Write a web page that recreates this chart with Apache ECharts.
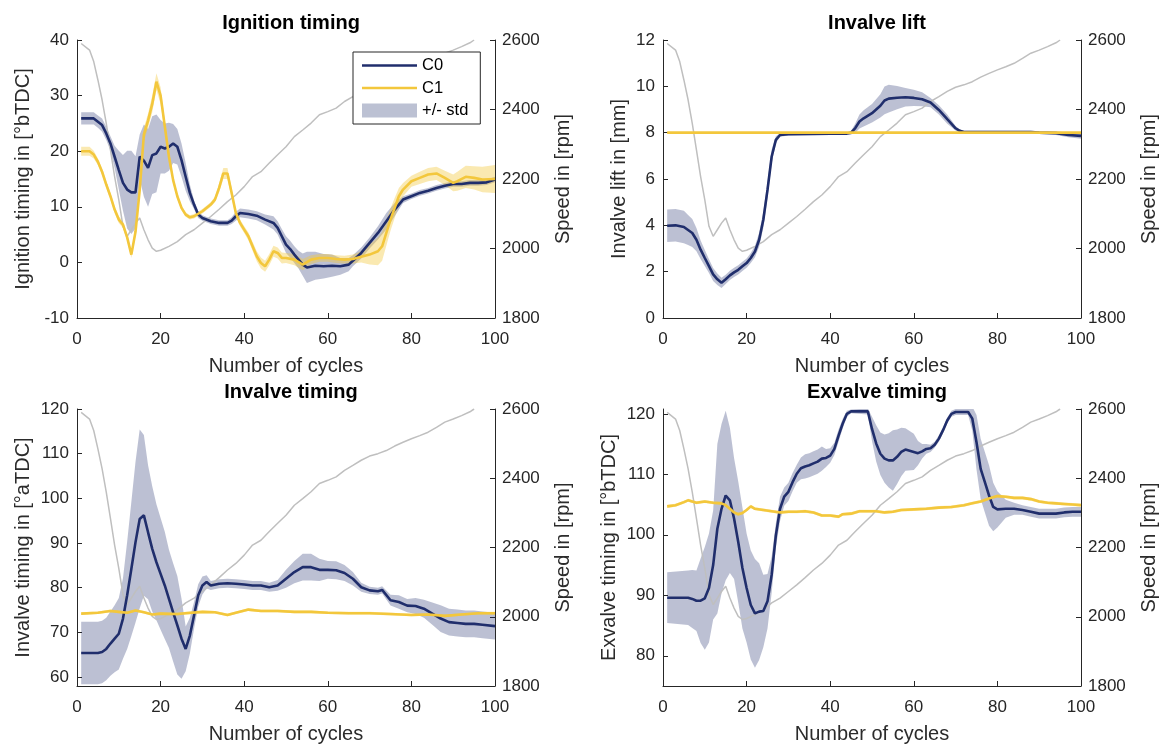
<!DOCTYPE html>
<html>
<head>
<meta charset="utf-8">
<script src="https://cdn.jsdelivr.net/npm/echarts@6/dist/echarts.min.js"></script>
<style>
  html, body { margin: 0; padding: 0; background: #fff; }
  #chart { width: 1163px; height: 745px; }
</style>
</head>
<body>
<div id="chart"></div>
<script>
// ---- shared x axis / speed trace ----
const cycleTicks = [0, 20, 40, 60, 80, 100];
const speedTicks = [1800, 2000, 2200, 2400, 2600];
const speedX = [1,3,4,5,6,7,8,9,10,11,12,13,14,15,16,17,18,19,20,22,24,26,28,30,32,34,36,38,40,42,44,46,48,50,52,54,56,58,60,62,64,66,68,70,72,74,76,78,80,82,84,86,88,90,92,94,95];
const speed = [2590,2571,2538,2485,2428,2360,2284,2207,2140,2064,2035,2054,2073,2088,2054,2025,2001,1992,1995,2006,2020,2040,2054,2073,2092,2113,2135,2154,2178,2207,2221,2246,2270,2293,2322,2341,2361,2385,2394,2404,2423,2437,2452,2464,2471,2480,2493,2504,2514,2523,2533,2547,2562,2571,2581,2592,2600];

// ---- Ignition timing ----
const ignTicks = [-10, 0, 10, 20, 30, 40];
const ignC0X = [1,4,5,6,7,8,9,10,11,12,13,14,15,16,17,18,19,20,21,22,23,24,25,26,27,28,29,30,32,34,36,37,38,39,41,43,45,47,48,49,50,51,52,53,54,55,57,59,61,63,65,66,68,70,72,74,76,78,80,82,84,86,88,90,92,94,96,98,100];
const ignC0 = [25.9,25.9,25.3,24.7,23.2,21.4,19.0,16.6,14.3,13.1,12.6,12.6,19.0,18.3,17.0,19.3,19.6,20.8,20.5,20.8,21.4,20.8,18.4,15.4,12.5,10.4,8.6,8.0,7.4,7.1,7.1,7.5,8.3,8.9,8.7,8.4,7.7,7.1,6.2,4.7,3.2,2.4,1.4,0.5,-0.4,-0.9,-0.6,-0.7,-0.6,-0.7,-0.4,0.3,1.7,3.5,5.3,7.4,9.5,11.3,11.9,12.5,12.9,13.4,13.8,14.1,14.1,14.3,14.3,14.4,14.9];
const ignC0Std = [1.1,1.1,1.1,1.2,1.2,1.3,2.0,3.5,5.0,7.0,7.5,6.5,4.0,6.5,7.0,7.0,7.0,4.8,4.5,4.3,3.5,3.2,3.0,2.5,1.5,0.8,0.6,0.5,0.5,0.5,0.5,0.6,0.8,0.8,0.8,0.8,0.9,1.2,1.2,1.3,1.5,1.5,1.5,1.6,2.0,2.8,2.5,2.2,2.0,1.5,1.2,1.0,1.0,1.0,1.2,1.5,1.2,0.6,0.5,0.5,0.5,0.5,0.5,0.5,0.5,0.5,0.5,0.5,0.5];
const ignC1X = [1,3,4,5,6,7,8,9,10,11,12,13,14,15,16,17,18,19,20,21,22,23,24,25,26,27,28,30,32,33,34,35,36,37,38,39,40,41,42,43,44,45,46,47,48,49,50,52,54,56,58,60,62,64,66,68,70,72,73,74,75,76,77,78,80,82,84,86,88,90,91,93,95,97,100];
const ignC1 = [20.0,20.0,19.4,18.1,16.3,14.0,11.9,9.5,7.7,6.8,4.5,1.4,5.5,13.0,23.0,25.5,28.5,32.5,30.0,24.5,19.0,14.8,11.9,9.8,8.6,8.1,8.3,9.2,10.4,11.3,13.4,16.0,16.0,12.5,8.9,7.1,5.9,4.7,2.9,1.1,-0.1,-0.7,0.5,2.0,1.7,0.8,0.8,0.5,-0.4,0.5,0.8,0.8,0.6,0.5,0.6,1.0,1.4,2.0,2.9,5.3,7.7,9.8,11.9,13.1,14.6,15.2,15.8,16.0,15.2,14.3,14.6,15.4,15.2,14.9,15.0];
const ignC1Std = [0.8,0.8,0.7,0.6,0.6,0.6,0.6,0.6,0.6,0.6,0.6,0.6,0.8,1.0,1.2,1.3,1.5,1.5,1.5,1.0,0.8,0.6,0.5,0.4,0.4,0.4,0.4,0.4,0.4,0.5,0.8,1.0,1.0,0.9,0.6,0.6,0.6,0.7,0.8,0.9,1.0,1.0,1.0,1.0,1.0,1.0,0.9,1.0,1.0,0.8,0.7,0.7,0.7,0.7,0.8,1.0,1.8,2.5,2.6,2.3,2.0,1.8,1.5,1.2,1.0,1.1,1.2,1.2,1.3,1.5,1.7,2.0,2.1,2.3,2.5];

// ---- Invalve lift ----
const liftTicks = [0, 2, 4, 6, 8, 10, 12];
const liftC0X = [1,3,5,6,7,8,9,10,11,12,13,14,15,16,17,18,19,20,21,22,23,24,25,26,27,28,30,35,40,44,45,46,47,48,50,52,53,54,56,58,60,62,64,66,68,70,71,72,80,88,90,94,97,100];
const liftC0 = [3.98,4.0,3.93,3.8,3.67,3.38,2.95,2.59,2.24,1.88,1.67,1.52,1.67,1.84,1.97,2.08,2.23,2.37,2.59,2.87,3.38,4.24,5.53,6.97,7.69,7.9,7.93,7.94,7.95,7.96,8.0,8.2,8.48,8.62,8.84,9.16,9.39,9.47,9.51,9.53,9.5,9.44,9.3,8.98,8.58,8.19,8.08,8.03,8.03,8.03,8.0,7.98,7.9,7.86];
const liftC0Std = [0.7,0.7,0.7,0.65,0.6,0.5,0.4,0.35,0.3,0.28,0.25,0.22,0.2,0.2,0.2,0.2,0.2,0.2,0.22,0.25,0.3,0.35,0.35,0.3,0.15,0.08,0.05,0.05,0.05,0.05,0.08,0.2,0.3,0.35,0.4,0.5,0.6,0.6,0.5,0.4,0.35,0.3,0.2,0.2,0.2,0.1,0.06,0.05,0.05,0.05,0.06,0.08,0.1,0.12];
const liftC1X = [1,100];
const liftC1 = [8.0,8.0];
const liftC1Std = [0.02,0.02];

// ---- Invalve timing ----
const inTicks = [60, 70, 80, 90, 100, 110, 120];
const inC0X = [1,5,6,7,8,9,10,11,12,13,14,15,16,17,18,19,20,21,22,23,24,25,26,27,28,29,30,31,32,34,36,38,40,42,44,46,48,50,52,54,56,58,60,62,64,66,68,70,72,73,75,77,79,81,83,85,87,89,91,93,95,97,100];
const inC0 = [65.4,65.4,65.6,66.3,67.5,68.6,69.7,73.1,78.3,84.2,90.2,95.4,96.2,92.4,88.7,85.7,83.1,80.5,77.5,74.5,71.6,68.6,66.3,69.3,73.8,78.3,80.5,81.3,80.5,80.9,81.0,80.9,80.7,80.5,80.5,80.1,80.5,82.0,83.5,84.6,84.6,84.0,84.0,83.9,83.3,82.0,80.1,79.4,79.2,79.5,77.2,76.8,76.0,75.9,75.3,74.2,73.1,72.3,72.1,71.9,71.9,71.7,71.4];
const inC0Std = [7,7,7,7,7.2,7.5,8,9,12,15,18,20,18,15,14,13,12.5,12,11,11,11,9,5,4,3,2.5,2,1.5,1,1,1,1,1,1,1,1,1.2,2,2.5,3,3,2.5,2,2,1.8,1.5,1,0.8,0.8,0.8,1.2,1.5,1.5,1.8,2,2.5,3,3,3,3,3,3,3];
const inC1X = [1,5,8,10,12,14,16,18,20,24,26,30,33,36,38,41,44,48,52,56,60,65,70,75,80,84,88,92,96,100];
const inC1 = [74.2,74.4,74.8,74.6,74.4,74.9,74.5,74.0,74.2,74.1,74.3,74.6,74.5,73.9,74.4,75.1,74.8,74.8,74.6,74.6,74.4,74.3,74.3,74.1,73.9,74.0,73.7,74.0,74.3,74.3];
const inC1Std = inC1X.map(() => 0.3);

// ---- Exvalve timing ----
const exTicks = [80, 90, 100, 110, 120];
const exC0X = [1,6,7,8,9,10,11,12,13,14,15,16,17,18,19,20,21,22,23,24,25,26,27,28,29,30,31,32,33,34,35,36,37,38,39,40,41,42,43,44,45,49,50,51,52,53,54,55,56,57,58,60,61,62,63,64,65,66,67,68,69,70,73,74,75,76,77,78,79,80,82,84,86,88,90,92,94,96,98,100];
const exC0 = [89.6,89.6,89.4,89.1,89.1,89.5,91.2,95.0,101.0,104.3,106.5,105.7,102.7,98.8,94.5,91.2,88.4,87.0,87.3,87.4,89.0,93.4,99.9,104.3,106.3,107.1,108.7,110.1,111.0,111.3,111.5,111.8,112.1,112.6,112.7,113.1,114.2,116.4,118.4,120.0,120.4,120.4,117.5,115.1,113.4,112.6,112.3,112.3,112.9,113.7,114.1,113.7,113.5,113.8,114.2,114.3,114.9,115.9,117.3,118.9,120.0,120.3,120.3,119.2,115.3,110.9,108.7,106.5,104.6,104.2,104.3,104.3,104.1,103.8,103.5,103.5,103.5,103.7,103.8,103.8];
const exC0Std = [4.2,4.5,4.8,5,7,8.5,9,9,14,14,14,12,10,10,10,9,9,9,8,6,4.5,3,2,2,1.5,1.5,1.5,1.5,1.8,2,2,2,2,2,1.5,1.2,1,1,0.8,0.5,0.3,0.5,2,3,3.5,4,4.5,5,4.5,4,3.5,3,2,1.2,0.8,0.6,0.5,0.5,0.5,0.5,0.5,0.5,0.5,2,4.5,5,5,5,4,3,1.5,1,0.8,0.8,0.8,0.8,0.8,0.8,0.8,0.8];
const exC1X = [1,3,5,6,8,10,12,14,15,16,17,18,19,20,21,22,24,26,28,30,32,34,36,38,40,42,43,45,47,49,51,53,55,57,60,63,66,69,72,74,76,78,80,82,84,86,88,90,92,94,96,98,100];
const exC1 = [104.7,104.9,105.4,105.7,105.3,105.5,105.3,105.2,104.9,104.3,103.7,103.4,103.6,104.1,104.7,104.3,104.1,103.9,103.7,103.8,103.8,103.9,103.7,103.2,103.2,103.0,103.4,103.5,103.9,103.9,103.9,103.7,103.8,104.1,104.2,104.3,104.5,104.6,104.9,105.2,105.5,106.0,106.4,106.3,106.1,106.1,105.9,105.5,105.3,105.2,105.1,105.0,104.9];
const exC1Std = exC1X.map(() => 0.25);

// ---- styling ----
const FONT = '"Liberation Sans", Arial, Helvetica, sans-serif';
const AXIS = '#262626';
const NAVY = '#202e6c';
const YELLOW = '#f3c73c';
const NAVY_BAND = 'rgba(32,46,108,0.3)';
const YELLOW_BAND = 'rgba(243,199,60,0.4)';
const GREY = '#bfbfbf';

const panels = [
  { title: 'Ignition timing', yName: 'Ignition timing in [°bTDC]', min: -10, max: 40, ticks: ignTicks, nameGap: 44,
    grid: { left: 77, top: 40, width: 418, height: 278 },
    c0x: ignC0X, c0: ignC0, c0s: ignC0Std, c1x: ignC1X, c1: ignC1, c1s: ignC1Std },
  { title: 'Invalve lift', yName: 'Invalve lift in [mm]', min: 0, max: 12, ticks: liftTicks, nameGap: 34,
    grid: { left: 663, top: 40, width: 418, height: 278 },
    c0x: liftC0X, c0: liftC0, c0s: liftC0Std, c1x: liftC1X, c1: liftC1, c1s: liftC1Std },
  { title: 'Invalve timing', yName: 'Invalve timing in [°aTDC]', min: 58, max: 120, ticks: inTicks, nameGap: 44,
    grid: { left: 77, top: 409, width: 418, height: 279 },
    c0x: inC0X, c0: inC0, c0s: inC0Std, c1x: inC1X, c1: inC1, c1s: inC1Std },
  { title: 'Exvalve timing', yName: 'Exvalve timing in [°bTDC]', min: 75, max: 120.8, ticks: exTicks, nameGap: 44,
    grid: { left: 663, top: 409, width: 418, height: 279 },
    c0x: exC0X, c0: exC0, c0s: exC0Std, c1x: exC1X, c1: exC1, c1s: exC1Std }
];

const pairs = (xs, ys) => xs.map((x, i) => [x, ys[i]]);

// mean +/- std drawn as one filled polygon through the axis scales
function bandSeries(name, gridIdx, xs, ys, sd, fill, iconColor) {
  const upper = xs.map((x, k) => [x, ys[k] + sd[k]]);
  const lower = xs.map((x, k) => [x, ys[k] - sd[k]]);
  return {
    type: 'custom', name: name, xAxisIndex: gridIdx, yAxisIndex: 2 * gridIdx,
    silent: true, itemStyle: { color: iconColor },
    data: xs.map((x, k) => [x, lower[k][1], upper[k][1]]),
    encode: { x: 0, y: [1, 2] },
    renderItem: function (params, api) {
      if (params.dataIndex !== 0) return null;
      const pts = upper.map(p => api.coord(p))
        .concat(lower.slice().reverse().map(p => api.coord(p)));
      const cs = params.coordSys;
      return {
        type: 'polygon',
        shape: { points: pts },
        style: { fill: fill, stroke: null },
        clipPath: { type: 'rect', shape: { x: cs.x, y: cs.y, width: cs.width, height: cs.height } }
      };
    }
  };
}

const tickStyle = { inside: true, length: 5, lineStyle: { color: AXIS, width: 1 } };
const axisLine = { show: true, onZero: false, lineStyle: { color: AXIS, width: 1 } };
const labelText = { fontFamily: FONT, fontSize: 17, color: AXIS };
const nameText = { fontFamily: FONT, fontSize: 20, color: '#2b2b2b' };
const lineIcon = 'path://M0,0L55,0L55,2.6L0,2.6Z';

const option = {
  animation: false,
  backgroundColor: '#fff',
  title: [],
  grid: [],
  xAxis: [],
  yAxis: [],
  series: [],
  legend: {
    orient: 'vertical',
    left: 353, top: 52,
    padding: [5, 12, 5, 9],
    itemWidth: 55, itemHeight: 14, itemGap: 5.5,
    borderColor: AXIS, borderWidth: 1, backgroundColor: '#fff',
    textStyle: { fontFamily: FONT, fontSize: 16.5, color: '#000' },
    data: [
      { name: 'C0', icon: lineIcon },
      { name: 'C1', icon: lineIcon },
      { name: '+/- std', icon: 'rect', itemStyle: { color: '#bcc1d3', borderWidth: 0 } }
    ]
  }
};

panels.forEach((p, i) => {
  const g = p.grid;
  option.title.push({
    text: p.title,
    left: g.left + g.width / 2,
    top: g.top - 32,
    textAlign: 'center',
    textStyle: { fontFamily: FONT, fontSize: 20, fontWeight: 'bold', color: '#000' }
  });
  option.grid.push(Object.assign({ containLabel: false }, g));
  option.xAxis.push({
    type: 'value', gridIndex: i, min: 0, max: 100, interval: 20,
    name: 'Number of cycles', nameLocation: 'middle', nameGap: 38, nameTextStyle: nameText,
    axisLine: axisLine, axisTick: tickStyle,
    axisLabel: Object.assign({ margin: 13 }, labelText),
    splitLine: { show: false }
  });
  option.yAxis.push({
    type: 'value', gridIndex: i, position: 'left', min: p.min, max: p.max,
    name: p.yName, nameLocation: 'middle', nameGap: p.nameGap, nameTextStyle: nameText,
    axisLine: axisLine,
    axisTick: Object.assign({ customValues: p.ticks }, tickStyle),
    axisLabel: Object.assign({ margin: 8, customValues: p.ticks }, labelText),
    splitLine: { show: false }
  });
  option.yAxis.push({
    type: 'value', gridIndex: i, position: 'right', min: 1800, max: 2600, interval: 200,
    name: 'Speed in [rpm]', nameLocation: 'middle', nameGap: 58, nameTextStyle: nameText,
    axisLine: axisLine,
    axisTick: tickStyle,
    axisLabel: Object.assign({ margin: 7, formatter: v => String(v) }, labelText),
    splitLine: { show: false }
  });

  const left = 2 * i, right = 2 * i + 1;

  // engine speed on the right axis
  option.series.push({
    type: 'line', name: 'Speed', xAxisIndex: i, yAxisIndex: right,
    data: pairs(speedX, speed), symbol: 'none', silent: true,
    lineStyle: { color: GREY, width: 1.5 }, itemStyle: { color: GREY }
  });
  option.series.push(bandSeries('+/- std', i, p.c0x, p.c0, p.c0s, NAVY_BAND, '#bcc1d3'));
  option.series.push({
    type: 'line', name: 'C0', xAxisIndex: i, yAxisIndex: left,
    data: pairs(p.c0x, p.c0), symbol: 'none',
    lineStyle: { color: NAVY, width: 2.6 }, itemStyle: { color: NAVY }
  });
  option.series.push(bandSeries('C1 std', i, p.c1x, p.c1, p.c1s, YELLOW_BAND, '#f8e3a0'));
  option.series.push({
    type: 'line', name: 'C1', xAxisIndex: i, yAxisIndex: left,
    data: pairs(p.c1x, p.c1), symbol: 'none',
    lineStyle: { color: YELLOW, width: 2.6 }, itemStyle: { color: YELLOW }
  });
});

const chart = echarts.init(document.getElementById('chart'), null, { renderer: 'canvas' });
chart.setOption(option);
</script>
</body>
</html>
